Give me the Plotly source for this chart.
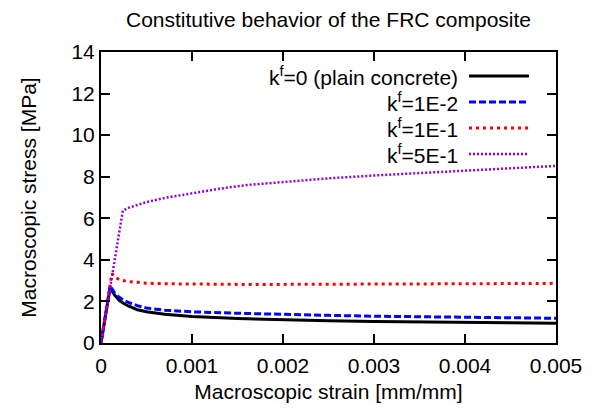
import plotly.graph_objects as go

# ---- data ----
strain_plain = [0, 0.0001, 0.00015, 0.0002, 0.00025, 0.0003, 0.0004, 0.0005, 0.0007,
                0.001, 0.0015, 0.002, 0.0025, 0.003, 0.0035, 0.004, 0.0045, 0.005]
stress_plain = [0, 2.65, 2.3, 2.05, 1.9, 1.78, 1.6, 1.5, 1.38,
                1.28, 1.18, 1.12, 1.07, 1.04, 1.01, 0.99, 0.97, 0.95]

strain_1e2 = [0, 0.0001, 0.00015, 0.0002, 0.00025, 0.0003, 0.0004, 0.0005, 0.0007,
              0.001, 0.0015, 0.002, 0.0025, 0.003, 0.0035, 0.004, 0.0045, 0.005]
stress_1e2 = [0, 2.75, 2.4, 2.2, 2.05, 1.95, 1.8, 1.68, 1.58,
              1.5, 1.43, 1.37, 1.33, 1.29, 1.26, 1.23, 1.21, 1.19]

strain_1e1 = [0, 0.00012, 0.00016, 0.0002, 0.0003, 0.0005, 0.0007, 0.001, 0.0015,
              0.002, 0.0025, 0.003, 0.0035, 0.004, 0.0045, 0.005]
stress_1e1 = [0, 3.35, 3.15, 3.05, 2.95, 2.88, 2.85, 2.83, 2.82,
              2.82, 2.82, 2.83, 2.84, 2.85, 2.86, 2.87]

strain_5e1 = [0, 0.00024, 0.0003, 0.0004, 0.0005, 0.0007, 0.001, 0.0013, 0.0016,
              0.002, 0.0025, 0.003, 0.0035, 0.004, 0.0045, 0.005]
stress_5e1 = [0, 6.37, 6.5, 6.65, 6.78, 6.98, 7.2, 7.42, 7.6,
              7.75, 7.92, 8.06, 8.18, 8.28, 8.4, 8.52]

series_names = ["k<sup>f</sup>=0 (plain concrete)", "k<sup>f</sup>=1E-2",
                "k<sup>f</sup>=1E-1", "k<sup>f</sup>=5E-1"]
series_x = [strain_plain, strain_1e2, strain_1e1, strain_5e1]
series_y = [stress_plain, stress_1e2, stress_1e1, stress_5e1]
colors = ["#000000", "#0000ff", "#ff0000", "#9400d3"]
widths = [3, 3, 3, 2.5]
dashes = ["solid", "7px,3px", "3px,4px", "2px,2px"]

x_ticks = [0, 0.001, 0.002, 0.003, 0.004, 0.005]
x_ticklabels = ["0", "0.001", "0.002", "0.003", "0.004", "0.005"]
y_ticks = [0, 2, 4, 6, 8, 10, 12, 14]

FONT = "Liberation Sans"
FS = 21

fig = go.Figure()
for name, xs, ys, c, w, d in zip(series_names, series_x, series_y, colors, widths, dashes):
    fig.add_trace(go.Scatter(x=xs, y=ys, mode="lines", name=name,
                             line=dict(color=c, width=w, dash=d), showlegend=False))

# manual gnuplot-style legend (text right-aligned, sample on the right)
row_y = [0.9175, 0.8282, 0.7388, 0.6495]
for name, yy, c, w, d in zip(series_names, row_y, colors, widths, dashes):
    fig.add_annotation(x=0.789, y=yy, xref="paper", yref="paper", text=name,
                       showarrow=False, xanchor="right", yanchor="middle",
                       font=dict(family=FONT, size=FS, color="black"))
    fig.add_shape(type="line", xref="paper", yref="paper", x0=0.8088, x1=0.9407,
                  y0=yy, y1=yy, line=dict(color=c, width=w, dash=d))

axis_common = dict(showline=True, linecolor="black", linewidth=2, mirror="ticks",
                   ticks="inside", ticklen=9, tickwidth=1.5, tickcolor="black",
                   showgrid=False, zeroline=False, automargin=False,
                   tickfont=dict(family=FONT, size=FS, color="black"))

fig.update_xaxes(range=[0, 0.005], tickvals=x_ticks, ticktext=x_ticklabels,
                 ticklabelstandoff=3,
                 title=dict(text="Macroscopic strain [mm/mm]", standoff=8,
                            font=dict(family=FONT, size=FS, color="black")),
                 **axis_common)
fig.update_yaxes(range=[0, 14], tickvals=y_ticks,
                 title=dict(text="Macroscopic stress [MPa]", standoff=29,
                            font=dict(family=FONT, size=FS, color="black")),
                 **axis_common)

fig.update_layout(
    width=604, height=410,
    margin=dict(l=101, r=48, t=52, b=67, autoexpand=False),
    paper_bgcolor="white", plot_bgcolor="white",
    title=dict(text="Constitutive behavior of the FRC composite", x=0.5, xanchor="center",
               xref="paper", y=1 - 20 / 410, yanchor="middle",
               font=dict(family=FONT, size=FS, color="black")),
    font=dict(family=FONT, size=FS, color="black"),
)

fig.write_html("out.html")
